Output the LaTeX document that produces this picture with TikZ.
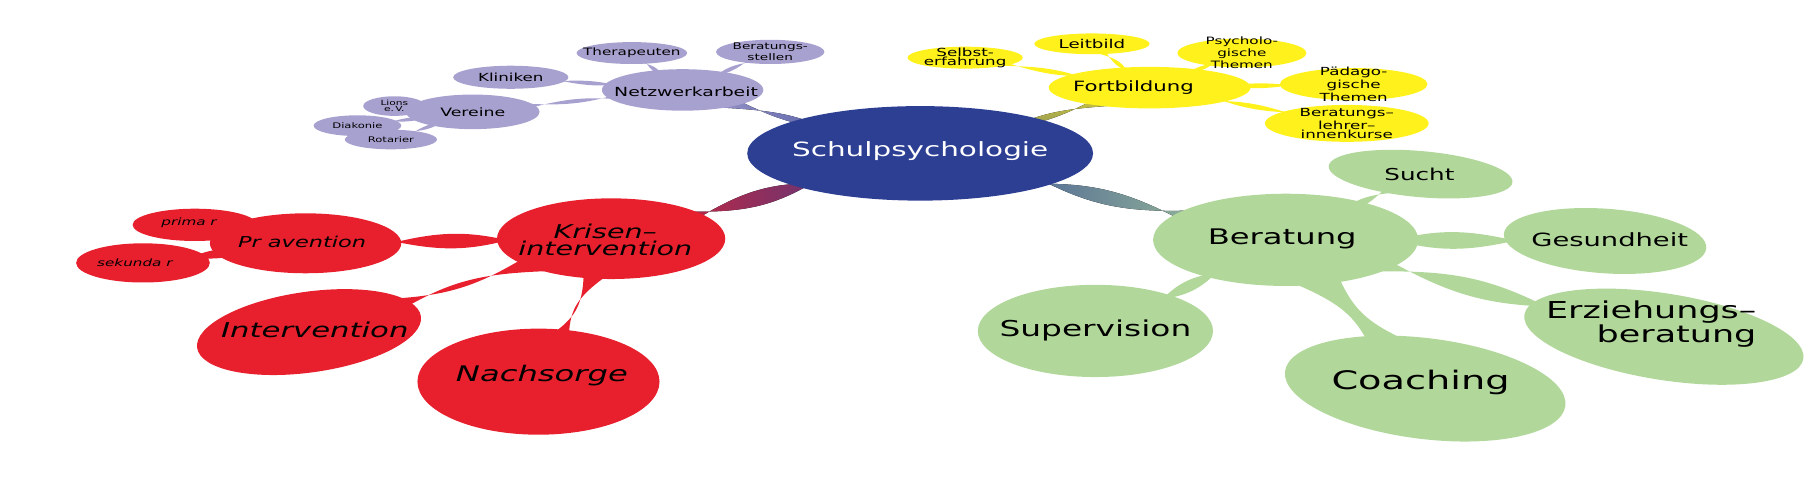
\documentclass[tikz,border=0pt]{standalone}
\usepackage{fontspec}
\setmainfont{DejaVu Sans}[FakeStretch=1.5]
\usetikzlibrary{shapes.geometric,calc,backgrounds}
\definecolor{schulblau}{HTML}{2D3F93}
\definecolor{netzlila}{HTML}{A7A1CF}
\definecolor{fortgelb}{HTML}{FFF21C}
\definecolor{krisenrot}{HTML}{E8202D}
\definecolor{beratgruen}{HTML}{B1D89A}
\newcommand\fsz[2]{\fontsize{#1}{#2}\selectfont}
% tapered branch: from, to, width at from, width at to, pinch, fill
\newcommand\branch[6]{%
  \coordinate (bm) at ($(#1.center)!0.5!(#2.center)$);
  \fill[#6] ($(#1.center)!#3!90:(#2.center)$) .. controls ($(bm)!#5!90:(#2.center)$) .. ($(#2.center)!#4!-90:(#1.center)$)
    -- ($(#2.center)!#4!90:(#1.center)$) .. controls ($(bm)!#5!-90:(#2.center)$) .. ($(#1.center)!#3!-90:(#2.center)$) -- cycle;}
\tikzset{
  bub/.style={ellipse, inner sep=0pt, draw=none},
  sz/.style 2 args={minimum width=#1cm, minimum height=#2cm},
  lila/.style={bub, fill=netzlila},
  gelb/.style={bub, fill=fortgelb},
  rot/.style={bub, fill=krisenrot},
  gruen/.style={bub, fill=beratgruen},
  txt/.style={inner sep=0pt, align=center, text=black},
}
\begin{document}
\begin{tikzpicture}[x=0.02cm, y=-0.02cm]
  \useasboundingbox (0,0) rectangle (1568,429);
  % Mitte
  \node[bub, fill=schulblau, sz={6}{1.64}] (schul) at (798,133) {};
  % Netzwerkarbeit
  \node[lila, sz={2.8}{0.72}] (netz) at (592,78) {};
  \node[lila, sz={1.92}{0.38}] (thera) at (548,46) {};
  \node[lila, sz={1.88}{0.42}] (bstell) at (668,45) {};
  \node[lila, sz={2.0}{0.4}] (klinik) at (443,67) {};
  \node[lila, sz={2.32}{0.6}] (verein) at (410,97) {};
  \node[lila, sz={1.08}{0.34}] (lions) at (342,92) {};
  \node[lila, sz={1.52}{0.36}] (diak) at (310,109) {};
  \node[lila, sz={1.6}{0.34}] (rotar) at (339,121) {};
  % Fortbildung
  \node[gelb, sz={3.5}{0.72}] (fort) at (997,76) {};
  \node[gelb, sz={2.0}{0.38}] (selbst) at (837,50) {};
  \node[gelb, sz={2.0}{0.36}] (leit) at (947,38) {};
  \node[gelb, sz={2.24}{0.5}] (psych) at (1077,46) {};
  \node[gelb, sz={2.56}{0.56}] (paed) at (1174,73) {};
  \node[gelb, sz={2.84}{0.64}] (bllk) at (1168,107) {};
  % Krisenintervention
  \node[rot, sz={3.96}{1.4}] (krise) at (530,207) {};
  \node[rot, sz={3.32}{1.04}] (praev) at (265,211) {};
  \node[rot, sz={2.16}{0.56}] (prim) at (169,195) {};
  \node[rot, sz={2.32}{0.68}] (sek) at (124,228) {};
  \node[rot, sz={3.92}{1.4}, rotate=8] (interv) at (268,288) {};
  \node[rot, sz={4.2}{1.84}] (nach) at (467,331) {};
  % Beratung
  \node[gruen, sz={4.6}{1.6}] (berat) at (1115,208) {};
  \node[gruen, sz={3.2}{0.8}, rotate=-5] (sucht) at (1232,151) {};
  \node[gruen, sz={3.52}{1.12}, rotate=-4] (gesund) at (1392,209) {};
  \node[gruen, sz={4.9}{1.5}, rotate=-9] (erz) at (1443,292) {};
  \node[gruen, sz={4.9}{1.75}, rotate=-7] (coach) at (1236,337) {};
  \node[gruen, sz={4.08}{1.6}] (superv) at (950,287) {};

  \begin{scope}[on background layer]
    \branch{schul}{krise}{20pt}{16pt}{-11pt}{left color=krisenrot, right color=schulblau}
    \branch{schul}{netz}{14pt}{8pt}{-5.4pt}{left color=netzlila, right color=schulblau}
    \branch{schul}{fort}{14pt}{8pt}{-5.4pt}{bottom color=schulblau, top color=fortgelb}
    \branch{schul}{berat}{20pt}{18pt}{-11pt}{left color=schulblau, right color=beratgruen}
    \branch{netz}{thera}{8pt}{4pt}{-3.2pt}{netzlila}
    \branch{netz}{bstell}{8pt}{4pt}{-3.2pt}{netzlila}
    \branch{netz}{klinik}{8pt}{4pt}{-3.2pt}{netzlila}
    \branch{netz}{verein}{8pt}{6pt}{-3.6pt}{netzlila}
    \branch{verein}{lions}{6pt}{3.5pt}{-2.7pt}{netzlila}
    \branch{verein}{diak}{6pt}{3.5pt}{-2.7pt}{netzlila}
    \branch{verein}{rotar}{6pt}{3.5pt}{-2.7pt}{netzlila}
    \branch{fort}{selbst}{8pt}{4pt}{-3.4pt}{fortgelb}
    \branch{fort}{leit}{8pt}{4pt}{-3.2pt}{fortgelb}
    \branch{fort}{psych}{8pt}{4pt}{-3.2pt}{fortgelb}
    \branch{fort}{paed}{8pt}{5pt}{-3.7pt}{fortgelb}
    \branch{fort}{bllk}{8pt}{5pt}{-3.7pt}{fortgelb}
    \branch{krise}{praev}{16pt}{12pt}{-9.4pt}{krisenrot}
    \branch{krise}{interv}{16pt}{16pt}{-7pt}{krisenrot}
    \branch{krise}{nach}{16pt}{20pt}{-6.6pt}{krisenrot}
    \branch{praev}{prim}{10pt}{6pt}{-5.2pt}{krisenrot}
    \branch{praev}{sek}{10pt}{7pt}{-5.7pt}{krisenrot}
    \branch{berat}{sucht}{18pt}{9pt}{-6.7pt}{beratgruen}
    \branch{berat}{gesund}{18pt}{12pt}{-10.4pt}{beratgruen}
    \branch{berat}{erz}{18pt}{16pt}{-11.4pt}{beratgruen}
    \branch{berat}{coach}{20pt}{20pt}{-3pt}{beratgruen}
    \branch{berat}{superv}{20pt}{18pt}{-10pt}{beratgruen}
  \end{scope}

  % Texte
  \node[txt, text=white, font=\fsz{9.7}{8}] (t-schul) at (798,131) {Schulpsychologie};
  \node[txt, font=\fsz{6.2}{5}] (t-netz) at (595,80) {Netzwerkarbeit};
  \node[txt, font=\fsz{5}{4}] (t-thera) at (thera) {Therapeuten};
  \node[txt, font=\fsz{4.5}{3.6}] (t-bstell) at (bstell) {Beratungs-\\stellen};
  \node[txt, font=\fsz{5.5}{4.4}] (t-klinik) at (klinik) {Kliniken};
  \node[txt, font=\fsz{5.7}{4.6}] (t-verein) at (verein) {Vereine};
  \node[txt, font=\fsz{3.5}{3}] (t-lions) at (lions) {Lions\\e.\,V.};
  \node[txt, font=\fsz{3.8}{3}] (t-diak) at (diak) {Diakonie};
  \node[txt, font=\fsz{3.8}{3}] (t-rotar) at (rotar) {Rotarier};
  \node[txt, font=\fsz{7}{6}] (t-fort) at (983,76) {Fortbildung};
  \node[txt, font=\fsz{5.5}{4.5}] (t-selbst) at (selbst) {Selbst-\\erfahrung};
  \node[txt, font=\fsz{6}{5}] (t-leit) at (leit) {Leitbild};
  \node[txt, font=\fsz{5}{4}] (t-psych) at (psych) {Psycholo-\\gische\\Themen};
  \node[txt, font=\fsz{5.5}{4.4}] (t-paed) at (paed) {Pädago-\\gische\\Themen};
  \node[txt, font=\fsz{5.5}{4.4}] (t-bllk) at (bllk) {Beratungs–\\lehrer–\\innenkurse};
  \node[txt, font=\itshape\fsz{9.4}{7.2}] (t-krise) at (525,208) {Krisen–\\intervention};
  \node[txt, font=\itshape\fsz{7.4}{6}] (t-praev) at (262,210) {Pr avention};
  \node[txt, font=\itshape\fsz{5}{4}] (t-prim) at (164,193) {prima r};
  \node[txt, font=\itshape\fsz{5}{4}] (t-sek) at (117,228) {sekunda r};
  \node[txt, font=\itshape\fsz{10.1}{8}] (t-interv) at (273,286) {Intervention};
  \node[txt, font=\itshape\fsz{10.6}{8.5}] (t-nach) at (470,326) {Nachsorge};
  \node[txt, font=\fsz{10.6}{8.5}] (t-berat) at (1112,207) {Beratung};
  \node[txt, font=\fsz{8.1}{6.5}] (t-sucht) at (1231,151) {Sucht};
  \node[txt, font=\fsz{9}{7.2}] (t-gesund) at (1396,208) {Gesundheit};
  \node[txt, align=right, font=\fsz{11.5}{9}] (t-erz) at (1432,281) {Erziehungs–\\beratung};
  \node[txt, font=\fsz{12.6}{10}] (t-coach) at (1232,332) {Coaching};
  \node[txt, font=\fsz{10.8}{8.6}] (t-superv) at (950,287) {Supervision};
\end{tikzpicture}
\end{document}
